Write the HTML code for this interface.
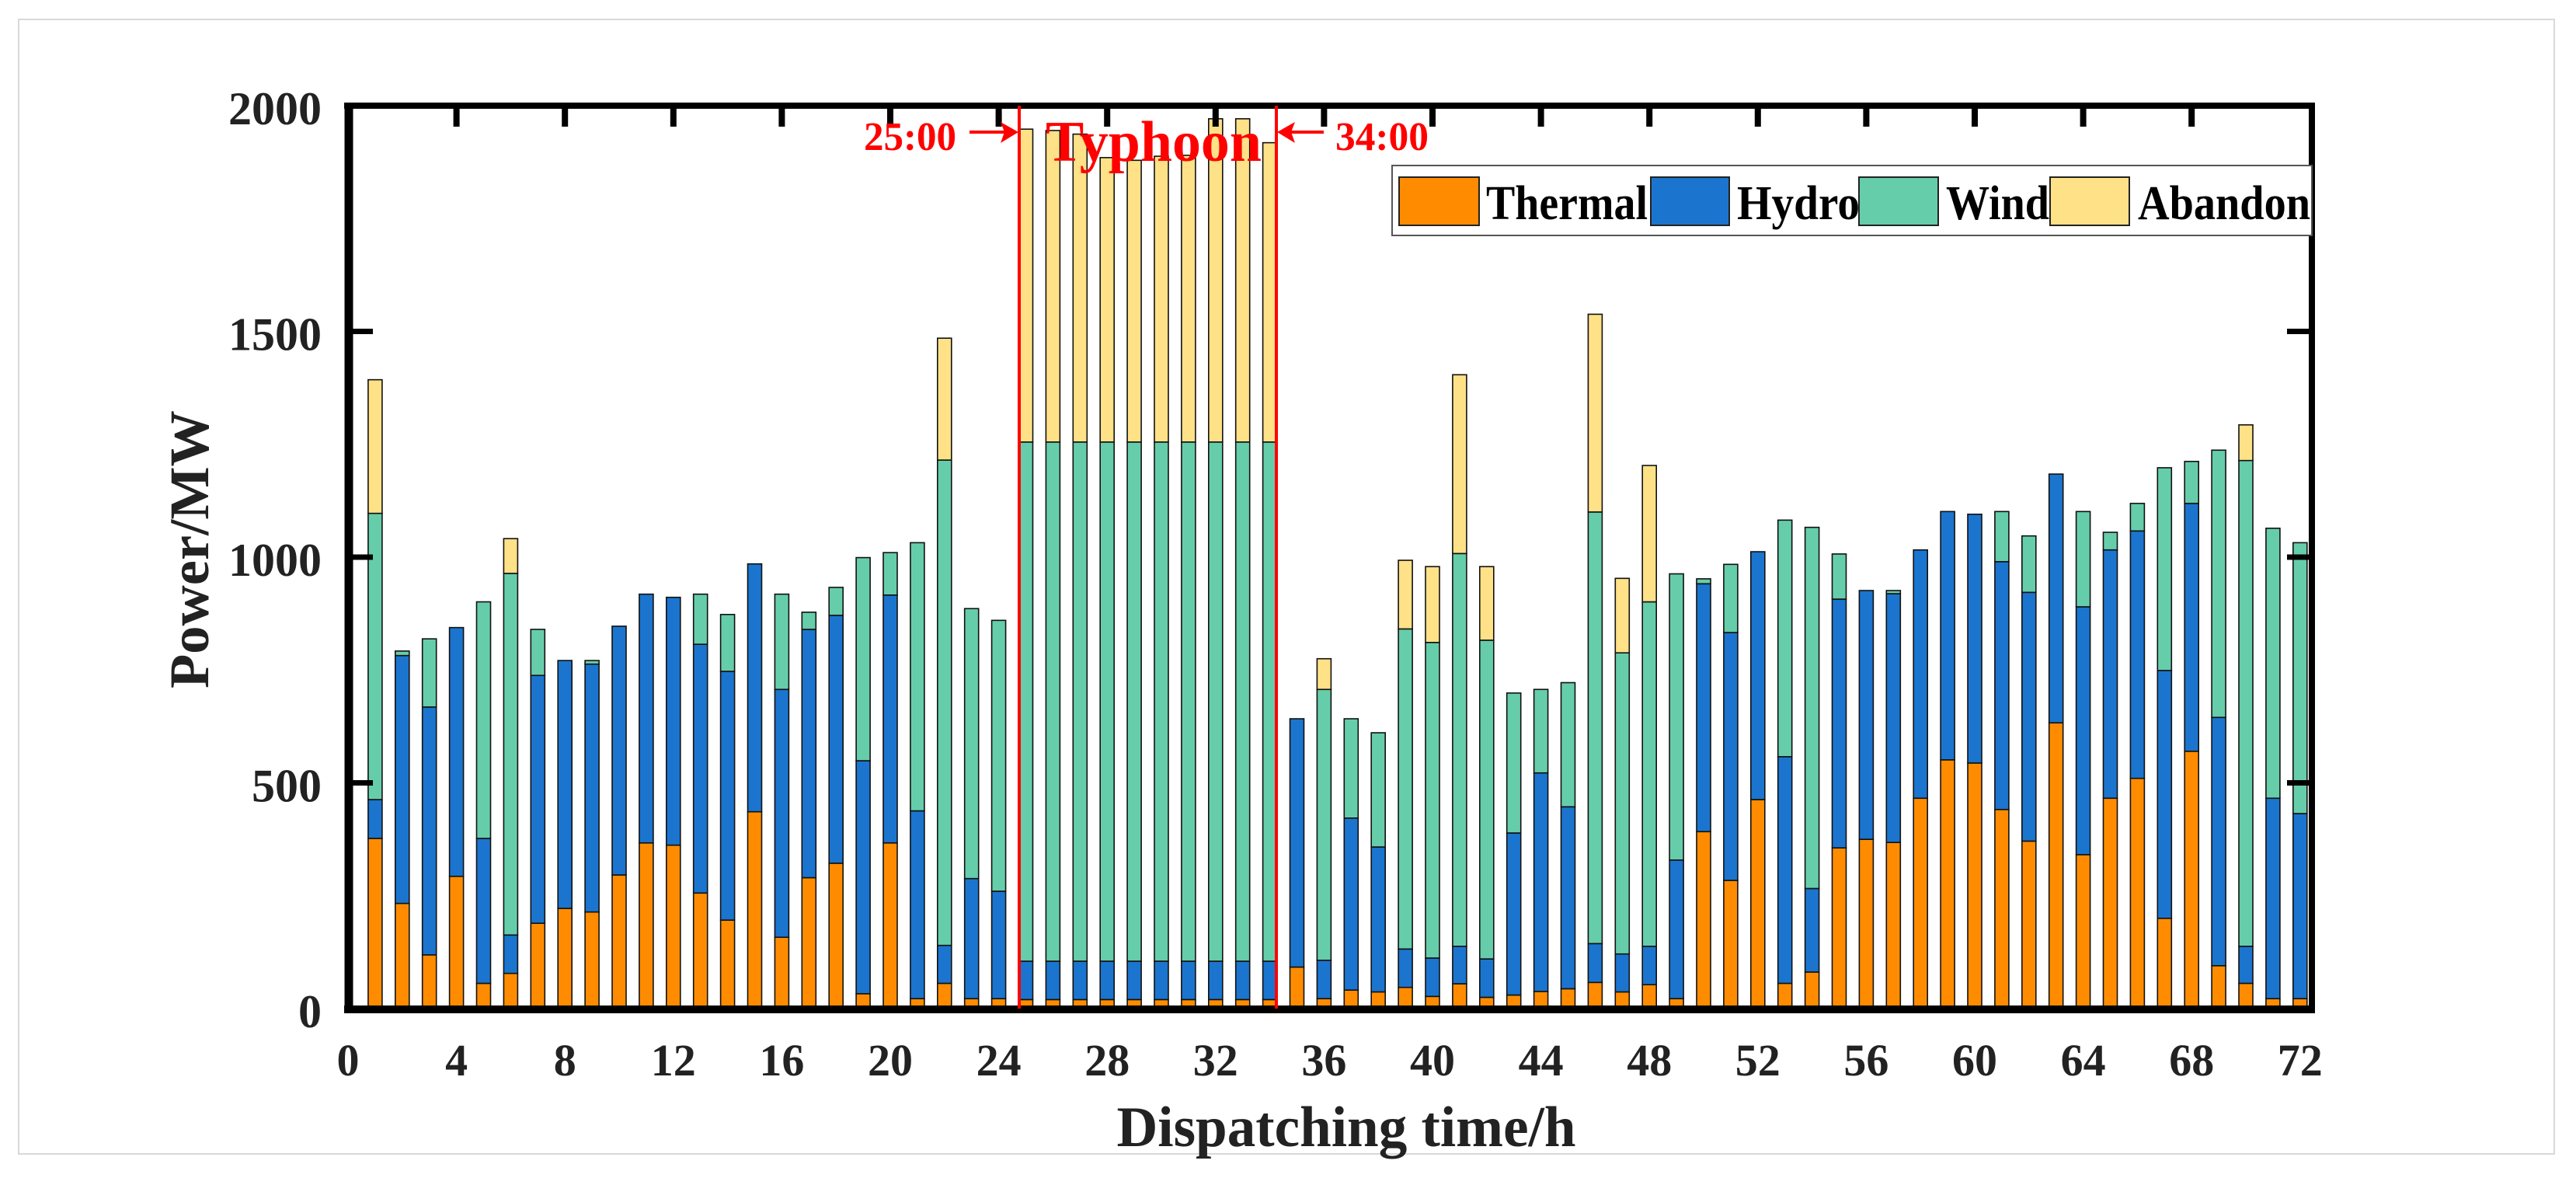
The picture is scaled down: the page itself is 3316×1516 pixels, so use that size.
<!DOCTYPE html>
<html><head><meta charset="utf-8"><style>
html,body{margin:0;padding:0;background:#fff;}
svg{display:block;}
text{font-family:"Liberation Serif",serif;font-weight:bold;}
</style></head><body>
<svg id="chart" width="3316" height="1516" viewBox="0 0 3316 1516" xmlns="http://www.w3.org/2000/svg">
<rect x="24" y="25" width="3264" height="1460" fill="#fff" stroke="#d8d8d8" stroke-width="2"/>
<g id="bars"></g>
<g id="axes"></g>
</svg>
<script>
const hours = Array.from({length:72},(_,i)=>i+1);
const thermal = [377,233,119,293,56,78,189,222,214,296,367,362,256,196,436,158,290,322,33,367,22,56,22,22,20,20,20,20,20,20,20,20,20,20,92,22,41,37,47,27,55,25,30,38,44,58,37,53,22,392,284,463,56,81,356,375,368,466,551,544,441,371,633,341,466,510,200,570,95,56,22,22];
const hydroTop = [463,782,668,844,377,163,738,771,763,847,918,911,807,747,985,707,840,871,549,916,438,140,288,260,105,105,105,105,105,105,105,105,105,105,642,107,422,358,132,112,138,110,389,522,447,144,121,138,329,941,833,1012,558,266,907,926,919,1016,1101,1095,990,922,1184,890,1016,1058,749,1119,645,138,466,432];
const windTop = [1097,792,819,844,901,964,840,771,771,847,918,911,918,873,985,918,878,933,999,1010,1032,1215,886,860,1255,1255,1255,1255,1255,1255,1255,1255,1255,1255,642,707,642,611,841,811,1008,816,699,707,722,1100,788,901,963,952,984,1012,1082,1066,1007,926,926,1016,1101,1095,1101,1047,1184,1101,1055,1119,1198,1212,1237,1214,1064,1032];
const abandonTop = [1393,792,819,844,901,1041,840,771,771,847,918,911,918,873,985,918,878,933,999,1010,1032,1485,886,860,1948,1945,1937,1885,1879,1888,1890,1971,1971,1918,642,775,642,611,993,979,1404,979,699,707,722,1538,953,1203,963,952,984,1012,1082,1066,1007,926,926,1016,1101,1095,1101,1047,1184,1101,1055,1119,1198,1212,1237,1293,1064,1032];
const yTicks = [0,500,1000,1500,2000];
const xTicks = [0,4,8,12,16,20,24,28,32,36,40,44,48,52,56,60,64,68,72];
const seriesNames = ["Thermal","Hydro","Wind","Abandon"];
const seriesColors = ["#FF8C00","#1B75CE","#66CDAA","#FFE187"];

const NS="http://www.w3.org/2000/svg";
const X0=448, PXH=34.9, Y0=1298, Y2000=136;
const xs = h => X0 + h*PXH;
const ys = v => Y0 - (v/2000)*(Y0-Y2000);
function mk(tag, attrs, parent){const e=document.createElementNS(NS,tag);for(const k in attrs)e.setAttribute(k,attrs[k]);parent.appendChild(e);return e;}
const bars=document.getElementById('bars'), axes=document.getElementById('axes');
const BW=18;
hours.forEach((h,i)=>{
  const levels=[0,thermal[i],hydroTop[i],windTop[i],abandonTop[i]];
  for(let s=0;s<4;s++){
    const lo=levels[s], hi=Math.max(levels[s+1],lo);
    if(hi-lo<=0.5) continue;
    const r=mk('rect',{x:xs(h)-BW/2,y:ys(hi),width:BW,height:ys(lo)-ys(hi),fill:seriesColors[s],stroke:'#111','stroke-width':1.6},bars);
    
    
  }
});
// axes box
const XR=2976;
let a;
a=mk('line',{x1:449,y1:Y2000-4,x2:449,y2:Y0+6,stroke:'#000','stroke-width':11},axes);


a=mk('line',{x1:443,y1:Y0+1,x2:XR+4,y2:Y0+1,stroke:'#000','stroke-width':10},axes);


a=mk('line',{x1:443,y1:Y2000,x2:XR+4,y2:Y2000,stroke:'#000','stroke-width':8},axes);


a=mk('line',{x1:XR,y1:Y2000-4,x2:XR,y2:Y0+6,stroke:'#000','stroke-width':8},axes);


yTicks.forEach(v=>{
  const y=ys(v);
  let t=mk('line',{x1:449,y1:y,x2:480,y2:y,stroke:'#000','stroke-width':7},axes);
  
  
  t=mk('line',{x1:XR,y1:y,x2:XR-32,y2:y,stroke:'#000','stroke-width':7},axes);
  
  
  const lb=mk('text',{x:414,y:y+24,'font-size':60,'text-anchor':'end',fill:'#222'},axes);
  lb.textContent=v;
  
  
});
xTicks.forEach(h=>{
  const x=xs(h);
  if(h>0&&h<72){
    const t=mk('line',{x1:x,y1:Y2000,x2:x,y2:Y2000+27,stroke:'#000','stroke-width':8},axes);
    
    
  }
  const lb=mk('text',{x:x,y:1384,'font-size':58,'text-anchor':'middle',fill:'#222'},axes);
  lb.textContent=h;
  
  
});
</script>
<svg style="position:absolute;left:0;top:0" width="3316" height="1516" viewBox="0 0 3316 1516" xmlns="http://www.w3.org/2000/svg">
<text x="1733" y="1475" font-size="74" text-anchor="middle" textLength="591" lengthAdjust="spacingAndGlyphs" fill="#222">Dispatching time/h</text>
<text transform="translate(268,707) rotate(-90)" font-size="72" text-anchor="middle" textLength="358" lengthAdjust="spacingAndGlyphs" fill="#222">Power/MW</text>
<line x1="1312" y1="136" x2="1312" y2="1298" stroke="#ff0000" stroke-width="4"/>
<line x1="1643" y1="136" x2="1643" y2="1298" stroke="#ff0000" stroke-width="4"/>
<text x="1346" y="207" font-size="74" textLength="278" lengthAdjust="spacingAndGlyphs" fill="#ff0000">Typhoon</text>
<text x="1112" y="193" font-size="52" textLength="119" lengthAdjust="spacingAndGlyphs" fill="#ff0000">25:00</text>
<text x="1719" y="193" font-size="52" textLength="120" lengthAdjust="spacingAndGlyphs" fill="#ff0000">34:00</text>
<g><line x1="1248" y1="170" x2="1296" y2="170" stroke="#ff0000" stroke-width="4"/><polygon points="1311,170 1288,157 1293,170 1288,184" fill="#ff0000"/></g>
<g><line x1="1704" y1="170" x2="1658" y2="170" stroke="#ff0000" stroke-width="4"/><polygon points="1644,170 1667,157 1662,170 1667,184" fill="#ff0000"/></g>
<g>
<rect x="1792" y="213" width="1184" height="90" fill="#fff" stroke="#555" stroke-width="2"/>
<rect x="1801" y="228" width="103" height="62" fill="#FF8C00" stroke="#222" stroke-width="2"/>
<text x="1913" y="282" font-size="62" textLength="208" lengthAdjust="spacingAndGlyphs" fill="#000">Thermal</text>
<rect x="2125" y="228" width="101" height="62" fill="#1B75CE" stroke="#222" stroke-width="2"/>
<text x="2236" y="282" font-size="62" textLength="158" lengthAdjust="spacingAndGlyphs" fill="#000">Hydro</text>
<rect x="2393" y="228" width="102" height="62" fill="#66CDAA" stroke="#222" stroke-width="2"/>
<text x="2505" y="282" font-size="62" textLength="133" lengthAdjust="spacingAndGlyphs" fill="#000">Wind</text>
<rect x="2639" y="228" width="102" height="62" fill="#FFE187" stroke="#222" stroke-width="2"/>
<text x="2752" y="282" font-size="62" textLength="222" lengthAdjust="spacingAndGlyphs" fill="#000">Abandon</text>
</g>
</svg>
</body></html>
